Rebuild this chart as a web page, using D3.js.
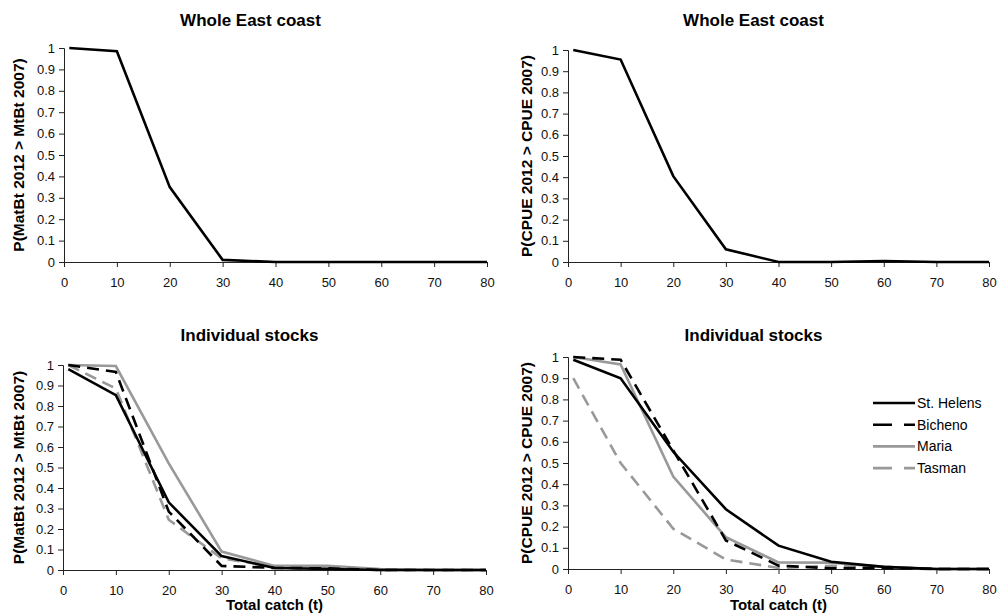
<!DOCTYPE html>
<html>
<head>
<meta charset="utf-8">
<script src="https://cdn.jsdelivr.net/npm/d3@7"></script>
<style>
body { margin: 0; background: white; }
svg { font-family: "Liberation Sans", Arial, sans-serif; }
</style>
</head>
<body>
<svg id="chart" width="999" height="615"></svg>
<script>
// catch levels (t)
const catches = [1, 10, 20, 30, 40, 50, 60, 70, 80];
const yTicks = [0, 0.1, 0.2, 0.3, 0.4, 0.5, 0.6, 0.7, 0.8, 0.9, 1];
const xTicks = [0, 10, 20, 30, 40, 50, 60, 70, 80];

// whole east coast
const coastMatBt = [1.0, 0.985, 0.35, 0.01, 0.0, 0.0, 0.0, 0.0, 0.0];
const coastCpue  = [1.0, 0.955, 0.405, 0.06, 0.0, 0.0, 0.005, 0.0, 0.0];

// individual stocks, MatBt
const stHelensMatBt = [0.98, 0.853, 0.33, 0.068, 0.01, 0.005, 0.0, 0.0, 0.0];
const bichenoMatBt  = [1.0, 0.966, 0.285, 0.02, 0.01, 0.008, 0.0, 0.0, 0.0];
const mariaMatBt    = [1.0, 0.995, 0.52, 0.09, 0.02, 0.02, 0.005, 0.0, 0.0];
const tasmanMatBt   = [1.0, 0.885, 0.245, 0.057, 0.015, 0.01, 0.0, 0.0, 0.0];

// individual stocks, CPUE
const stHelensCpue = [0.987, 0.9, 0.553, 0.282, 0.11, 0.034, 0.01, 0.0, 0.0];
const bichenoCpue  = [1.0, 0.987, 0.56, 0.135, 0.016, 0.003, 0.005, 0.0, 0.0];
const mariaCpue    = [1.0, 0.965, 0.436, 0.15, 0.031, 0.03, 0.01, 0.0, 0.0];
const tasmanCpue   = [0.9, 0.5, 0.19, 0.045, 0.005, 0.015, 0.01, 0.0, 0.0];

const stockNames = ["St. Helens", "Bicheno", "Maria", "Tasman"];

const styles = [
    {color: "#000", dash: null, legendDash: null},
    {color: "#000", dash: "12,7", legendDash: "19,12,11"},
    {color: "#999", dash: null, legendDash: null},
    {color: "#999", dash: "12,7", legendDash: "19,12,11"}
];

const svg = d3.select("#chart");

const panels = [
    {x0: 64, x1: 487, y0: 262, y1: 48, title: "Whole East coast", titleY: 20,
     ylabel: "P(MatBt 2012 > MtBt 2007)", ylabelX: 19,
     series: [coastMatBt], xlabel: false},
    {x0: 568, x1: 989, y0: 262, y1: 50, title: "Whole East coast", titleY: 20,
     ylabel: "P(CPUE 2012 > CPUE 2007)", ylabelX: 527,
     series: [coastCpue], xlabel: false},
    {x0: 63, x1: 486, y0: 570, y1: 365, title: "Individual stocks", titleY: 335,
     ylabel: "P(MatBt 2012 > MtBt 2007)", ylabelX: 19,
     series: [stHelensMatBt, bichenoMatBt, mariaMatBt, tasmanMatBt], xlabel: true},
    {x0: 568, x1: 989, y0: 569, y1: 357, title: "Individual stocks", titleY: 335,
     ylabel: "P(CPUE 2012 > CPUE 2007)", ylabelX: 527,
     series: [stHelensCpue, bichenoCpue, mariaCpue, tasmanCpue], xlabel: true, legend: true}
];

panels.forEach(function(p)
{
    const x = d3.scaleLinear().domain([0, 80]).range([p.x0, p.x1]);
    const y = d3.scaleLinear().domain([0, 1]).range([p.y0, p.y1]);
    const g = svg.append("g");

    // title
    g.append("text")
        .attr("x", (p.x0 + p.x1) / 2 - 25)
        .attr("y", p.titleY)
        .attr("dy", "0.35em")
        .attr("text-anchor", "middle")
        .attr("font-size", 17)
        .attr("font-weight", "bold")
        .text(p.title);

    // axes
    const yAxis = g.append("g")
        .attr("transform", "translate(" + p.x0 + ",0)")
        .call(d3.axisLeft(y).tickValues(yTicks).tickSize(5).tickPadding(4)
              .tickFormat(d => d3.format("")(+d.toFixed(1))));
    const xAxis = g.append("g")
        .attr("transform", "translate(0," + p.y0 + ")")
        .call(d3.axisBottom(x).tickValues(xTicks).tickSize(5).tickPadding(11));

    [yAxis, xAxis].forEach(function(a)
    {
        a.selectAll("text").attr("font-size", 13).attr("fill", "#111")
         .attr("font-family", "Liberation Sans, Arial, sans-serif");
        a.selectAll("path, line").attr("stroke", "#222");
    });

    // y label
    g.append("text")
        .attr("transform", "translate(" + p.ylabelX + "," + ((p.y0 + p.y1) / 2) + ") rotate(-90)")
        .attr("dy", "0.35em")
        .attr("text-anchor", "middle")
        .attr("font-size", 15.5)
        .attr("font-weight", "bold")
        .text(p.ylabel);

    if (p.xlabel)
    {
        g.append("text")
            .attr("x", (p.x0 + p.x1) / 2)
            .attr("y", 605)
            .attr("dy", "0.35em")
            .attr("text-anchor", "middle")
            .attr("font-size", 15)
            .attr("font-weight", "bold")
            .text("Total catch (t)");
    }

    const line = d3.line()
        .x((d, i) => x(catches[i]))
        .y(d => y(d));

    // draw back to front so St. Helens sits on top
    p.series.map((s, i) => i).reverse().forEach(function(i)
    {
        const st = styles[i];
        g.append("path")
            .datum(p.series[i])
            .attr("d", line)
            .attr("fill", "none")
            .attr("stroke", st.color)
            .attr("stroke-width", 2.6)
            .attr("stroke-dasharray", st.dash);
    });

    if (p.legend)
    {
        const lg = g.append("g");
        stockNames.forEach(function(name, i)
        {
            const ly = 403 + i * 21.7;
            lg.append("line")
                .attr("x1", 873).attr("x2", 915)
                .attr("y1", ly).attr("y2", ly)
                .attr("stroke", styles[i].color)
                .attr("stroke-width", 2.6)
                .attr("stroke-dasharray", styles[i].legendDash);
            lg.append("text")
                .attr("x", 917)
                .attr("y", ly)
                .attr("dy", "0.35em")
                .attr("font-size", 14)
                .text(name);
        });
    }
});
</script>
</body>
</html>
